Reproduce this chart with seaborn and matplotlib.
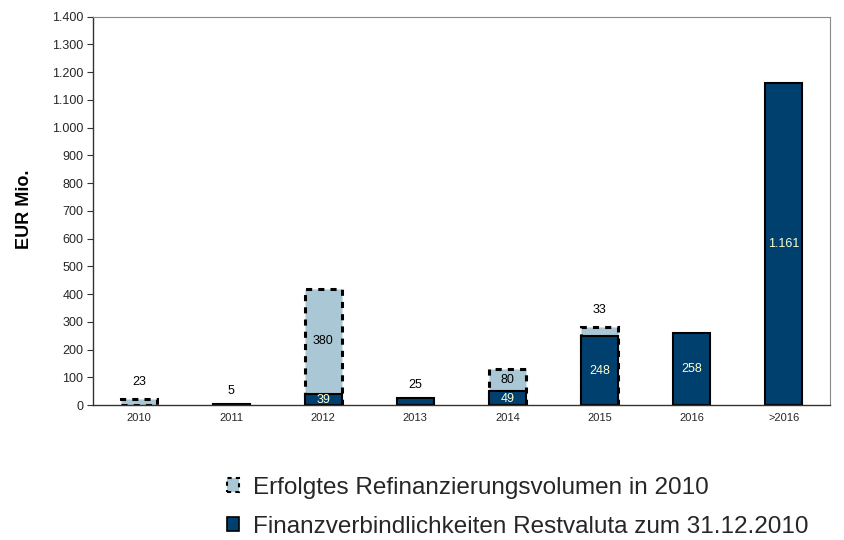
import matplotlib
matplotlib.use("Agg")
import matplotlib.pyplot as plt
import seaborn as sns
import pandas as pd
import numpy as np
from matplotlib.patches import Patch

categories = ["2010", "2011", "2012", "2013", "2014", "2015", "2016", ">2016"]
restvaluta = [0, 5, 39, 25, 49, 248, 258, 1161]
refinanzierung = [23, 0, 380, 0, 80, 33, 0, 0]
restvaluta_labels = ["", "5", "39", "25", "49", "248", "258", "1.161"]
refinanz_labels = ["23", "", "380", "", "80", "33", "", ""]
y_ticks = list(range(0, 1401, 100))
y_ticklabels = ["0", "100", "200", "300", "400", "500", "600", "700", "800", "900",
                "1.000", "1.100", "1.200", "1.300", "1.400"]

LIGHT = "#A9C7D5"
DARK = "#00406F"

sns.set_style("white")
plt.rcParams["font.family"] = ["Liberation Sans", "DejaVu Sans"]

df = pd.DataFrame({
    "Jahr": categories,
    "Rest": restvaluta,
    "Refi": refinanzierung,
})
df["Total"] = [r + f if f > 0 else np.nan for r, f in zip(df["Rest"], df["Refi"])]
df["RestPlot"] = [r if r > 0 else np.nan for r in df["Rest"]]

fig = plt.figure(figsize=(8.45, 5.40), dpi=100)
ax = fig.add_axes([0.110, 0.250, 0.872, 0.719])

sns.barplot(data=df, x="Jahr", y="Total", order=categories, color=LIGHT,
            width=0.4, edgecolor="black", linewidth=2.2, linestyle=(0, (2, 2)),
            saturation=1, ax=ax, errorbar=None)
sns.barplot(data=df, x="Jahr", y="RestPlot", order=categories, color=DARK,
            width=0.4, edgecolor="black", linewidth=1.5,
            saturation=1, ax=ax, errorbar=None)

ax.set_xlim(-0.5, len(categories) - 0.5)
ax.set_ylim(0, 1400)
ax.set_yticks(y_ticks)
ax.set_yticklabels(y_ticklabels, fontsize=9)
ax.set_xticks(range(len(categories)))
ax.set_xticklabels(categories, fontsize=8)
ax.tick_params(axis="x", length=0, pad=6)
ax.set_xticks(np.arange(-0.5, len(categories), 1.0), minor=True)
ax.tick_params(axis="x", which="minor", length=4, width=0.8, color="#333333", direction="out")
ax.tick_params(axis="y", length=4, width=0.8, color="#333333", direction="out", left=True, pad=3)
ax.set_xlabel("")
ax.set_ylabel("EUR Mio.", fontsize=13, fontweight="bold", color="black")
ax.yaxis.set_label_coords(-0.081, 0.505)

for side in ["top", "right"]:
    ax.spines[side].set_color("#888888")
    ax.spines[side].set_linewidth(0.8)
for side in ["left", "bottom"]:
    ax.spines[side].set_color("#333333")
    ax.spines[side].set_linewidth(1.0)

# value labels
for i, cat in enumerate(categories):
    r = restvaluta[i]
    f = refinanzierung[i]
    if r > 60:
        ax.text(i, r / 2, restvaluta_labels[i], ha="center", va="center",
                fontsize=9, color="#FFFFCC")
    elif r > 30:
        ax.text(i, r / 2 - 3, restvaluta_labels[i], ha="center", va="center",
                fontsize=9, color="#FFFFCC")
    elif r > 0 and f == 0:
        ax.annotate(restvaluta_labels[i], (i, r), xytext=(0, 5), textcoords="offset points",
                    ha="center", va="bottom", fontsize=9, color="black")
    if f > 60:
        ax.text(i, r + f / 2, refinanz_labels[i], ha="center", va="center",
                fontsize=9, color="black")
    elif f > 0:
        ax.annotate(refinanz_labels[i], (i, r + f), xytext=(0, 8), textcoords="offset points",
                    ha="center", va="bottom", fontsize=9, color="black")

handles = [
    Patch(facecolor=LIGHT, edgecolor="black", linewidth=1.5, linestyle=(0, (2, 2))),
    Patch(facecolor=DARK, edgecolor="black", linewidth=1.2),
]
labels = ["Erfolgtes Refinanzierungsvolumen in 2010",
          "Finanzverbindlichkeiten Restvaluta zum 31.12.2010"]
fig.legend(handles, labels, loc="upper left", bbox_to_anchor=(0.269, 0.117),
           frameon=False, fontsize=17.5, handlelength=0.5, handleheight=0.5,
           handletextpad=0.55, labelspacing=0.7, borderpad=0, borderaxespad=0)

fig.savefig("out.png", dpi=100)
